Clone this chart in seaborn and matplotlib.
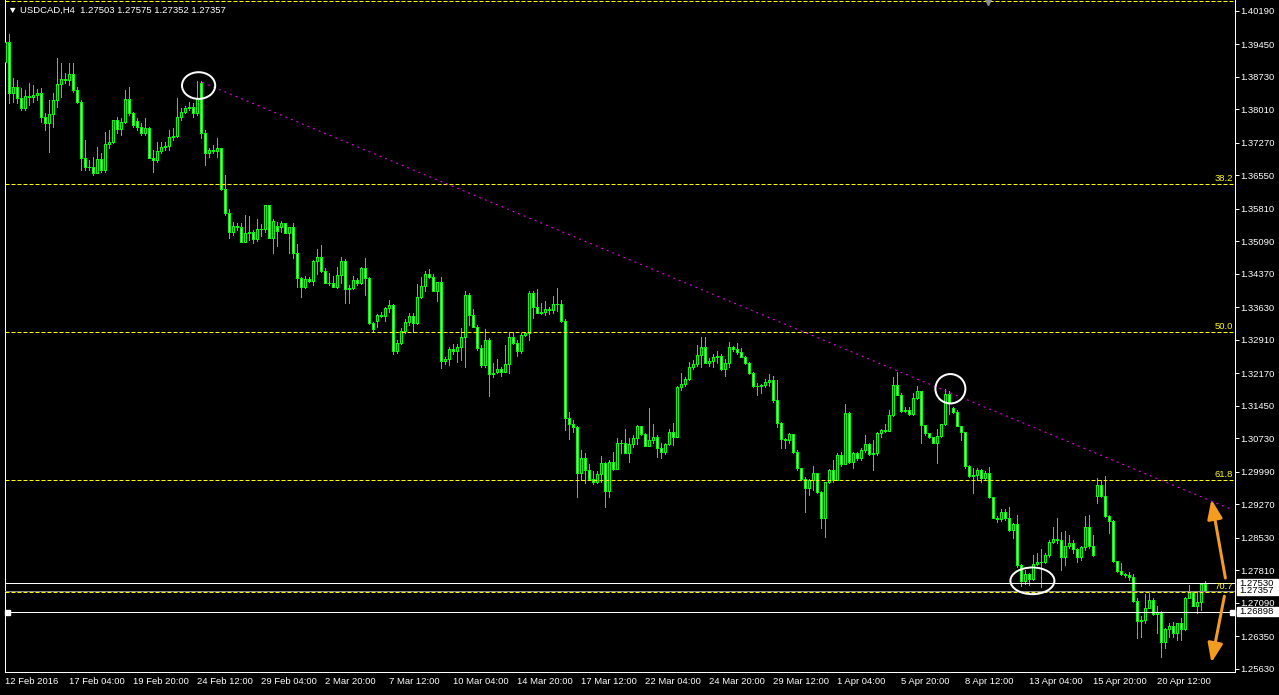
import matplotlib
matplotlib.use("Agg")
import matplotlib.pyplot as plt
import matplotlib.transforms as mtransforms
from matplotlib.patches import Ellipse, Rectangle
import numpy as np
import pandas as pd
import seaborn as sns

# USDCAD H4 bars
opens = [
    1.3907, 1.3951, 1.3838, 1.3850, 1.3826, 1.3804, 1.3831, 1.3829, 1.3833, 1.3837,
    1.3784, 1.3772, 1.3791, 1.3822, 1.3857, 1.3868, 1.3866, 1.3879, 1.3844, 1.3818,
    1.3693, 1.3673, 1.3674, 1.3661, 1.3691, 1.3667, 1.3724, 1.3728, 1.3778, 1.3758,
    1.3774, 1.3824, 1.3794, 1.3776, 1.3763, 1.3748, 1.3759, 1.3694, 1.3689, 1.3710,
    1.3717, 1.3720, 1.3741, 1.3742, 1.3784, 1.3796, 1.3804, 1.3806, 1.3793, 1.3860,
    1.3750, 1.3704, 1.3711, 1.3709, 1.3715, 1.3624, 1.3571, 1.3530, 1.3543, 1.3542,
    1.3508, 1.3527, 1.3530, 1.3514, 1.3536, 1.3537, 1.3590, 1.3517, 1.3543, 1.3542,
    1.3549, 1.3528, 1.3540, 1.3484, 1.3427, 1.3409, 1.3426, 1.3422, 1.3466, 1.3474,
    1.3444, 1.3418, 1.3416, 1.3409, 1.3435, 1.3466, 1.3403, 1.3405, 1.3424, 1.3418,
    1.3450, 1.3427, 1.3328, 1.3334, 1.3346, 1.3344, 1.3361, 1.3368, 1.3267, 1.3284,
    1.3311, 1.3331, 1.3345, 1.3328, 1.3385, 1.3410, 1.3436, 1.3431, 1.3400, 1.3419,
    1.3245, 1.3248, 1.3270, 1.3267, 1.3275, 1.3297, 1.3390, 1.3346, 1.3320, 1.3273,
    1.3236, 1.3292, 1.3215, 1.3221, 1.3226, 1.3221, 1.3237, 1.3297, 1.3285, 1.3267,
    1.3301, 1.3306, 1.3396, 1.3365, 1.3351, 1.3353, 1.3359, 1.3357, 1.3371, 1.3371,
    1.3334, 1.3118, 1.3104, 1.3099, 1.2997, 1.3029, 1.3003, 1.2983, 1.2976, 1.2994,
    1.3018, 1.2957, 1.3022, 1.3005, 1.3062, 1.3064, 1.3041, 1.3060, 1.3073, 1.3101,
    1.3083, 1.3057, 1.3070, 1.3076, 1.3053, 1.3044, 1.3060, 1.3088, 1.3077, 1.3186,
    1.3193, 1.3205, 1.3231, 1.3238, 1.3257, 1.3276, 1.3241, 1.3244, 1.3254, 1.3256,
    1.3226, 1.3239, 1.3275, 1.3270, 1.3265, 1.3253, 1.3241, 1.3218, 1.3188, 1.3189,
    1.3191, 1.3198, 1.3202, 1.3158, 1.3108, 1.3071, 1.3070, 1.3082, 1.3044, 1.3007,
    1.2983, 1.2963, 1.2981, 1.2996, 1.2955, 1.2898, 1.2977, 1.3003, 1.2980, 1.3036,
    1.3017, 1.3130, 1.3022, 1.3041, 1.3029, 1.3047, 1.3060, 1.3038, 1.3040, 1.3086,
    1.3092, 1.3090, 1.3125, 1.3191, 1.3169, 1.3134, 1.3136, 1.3127, 1.3162, 1.3177,
    1.3103, 1.3086, 1.3076, 1.3064, 1.3079, 1.3105, 1.3171, 1.3141, 1.3132, 1.3101,
    1.3088, 1.3011, 1.2989, 1.2992, 1.3003, 1.2985, 1.2996, 1.2943, 1.2898, 1.2895,
    1.2911, 1.2898, 1.2870, 1.2884, 1.2793, 1.2758, 1.2773, 1.2761, 1.2795, 1.2799,
    1.2800, 1.2815, 1.2843, 1.2850, 1.2848, 1.2811, 1.2835, 1.2841, 1.2828, 1.2810,
    1.2832, 1.2876, 1.2835, 1.2946, 1.2970, 1.2946, 1.2901, 1.2891, 1.2802, 1.2780,
    1.2772, 1.2771, 1.2767, 1.2714, 1.2668, 1.2671, 1.2697, 1.2716, 1.2685, 1.2688,
    1.2623, 1.2651, 1.2659, 1.2642, 1.2664, 1.2651, 1.2719, 1.2733, 1.2703, 1.2712,
    1.27503,
]
highs = [
    1.3959, 1.3968, 1.3870, 1.3866, 1.3848, 1.3844, 1.3859, 1.3855, 1.3846, 1.3848,
    1.3793, 1.3822, 1.3837, 1.3914, 1.3904, 1.3881, 1.3904, 1.3904, 1.3851, 1.3822,
    1.3733, 1.3689, 1.3696, 1.3718, 1.3704, 1.3752, 1.3756, 1.3778, 1.3784, 1.3782,
    1.3844, 1.3850, 1.3796, 1.3782, 1.3771, 1.3782, 1.3763, 1.3711, 1.3730, 1.3730,
    1.3730, 1.3756, 1.3759, 1.3826, 1.3804, 1.3809, 1.3818, 1.3815, 1.3863, 1.3863,
    1.3756, 1.3715, 1.3722, 1.3737, 1.3715, 1.3656, 1.3581, 1.3553, 1.3550, 1.3549,
    1.3567, 1.3565, 1.3534, 1.3558, 1.3547, 1.3590, 1.3590, 1.3559, 1.3553, 1.3555,
    1.3550, 1.3540, 1.3549, 1.3503, 1.3431, 1.3432, 1.3430, 1.3468, 1.3492, 1.3501,
    1.3450, 1.3439, 1.3432, 1.3453, 1.3474, 1.3470, 1.3413, 1.3432, 1.3427, 1.3452,
    1.3472, 1.3431, 1.3331, 1.3348, 1.3353, 1.3363, 1.3379, 1.3371, 1.3292, 1.3317,
    1.3337, 1.3350, 1.3350, 1.3415, 1.3431, 1.3444, 1.3447, 1.3437, 1.3420, 1.3431,
    1.3254, 1.3276, 1.3283, 1.3282, 1.3317, 1.3399, 1.3394, 1.3360, 1.3324, 1.3280,
    1.3315, 1.3295, 1.3239, 1.3248, 1.3231, 1.3280, 1.3309, 1.3309, 1.3291, 1.3306,
    1.3309, 1.3400, 1.3400, 1.3403, 1.3373, 1.3378, 1.3365, 1.3388, 1.3407, 1.3379,
    1.3337, 1.3132, 1.3114, 1.3101, 1.3047, 1.3040, 1.3016, 1.3000, 1.3000, 1.3034,
    1.3022, 1.3025, 1.3043, 1.3073, 1.3070, 1.3093, 1.3073, 1.3081, 1.3103, 1.3101,
    1.3086, 1.3140, 1.3106, 1.3081, 1.3064, 1.3062, 1.3095, 1.3108, 1.3188, 1.3217,
    1.3210, 1.3243, 1.3247, 1.3279, 1.3297, 1.3297, 1.3250, 1.3261, 1.3267, 1.3260,
    1.3248, 1.3286, 1.3278, 1.3285, 1.3273, 1.3256, 1.3243, 1.3221, 1.3195, 1.3193,
    1.3204, 1.3216, 1.3211, 1.3202, 1.3110, 1.3073, 1.3084, 1.3083, 1.3047, 1.3008,
    1.2988, 1.2983, 1.3012, 1.2997, 1.2957, 1.2977, 1.3005, 1.3025, 1.3040, 1.3044,
    1.3149, 1.3132, 1.3044, 1.3042, 1.3051, 1.3081, 1.3062, 1.3070, 1.3088, 1.3095,
    1.3106, 1.3137, 1.3210, 1.3221, 1.3173, 1.3143, 1.3143, 1.3173, 1.3189, 1.3179,
    1.3103, 1.3086, 1.3076, 1.3093, 1.3105, 1.3182, 1.3179, 1.3143, 1.3136, 1.3101,
    1.3088, 1.3014, 1.3007, 1.3007, 1.3005, 1.3000, 1.3010, 1.2943, 1.2901, 1.2918,
    1.2918, 1.2922, 1.2887, 1.2904, 1.2795, 1.2782, 1.2775, 1.2815, 1.2819, 1.2828,
    1.2819, 1.2848, 1.2877, 1.2896, 1.2865, 1.2869, 1.2859, 1.2848, 1.2830, 1.2835,
    1.2901, 1.2904, 1.2859, 1.2985, 1.2981, 1.2990, 1.2904, 1.2893, 1.2802, 1.2797,
    1.2776, 1.2778, 1.2773, 1.2719, 1.2680, 1.2729, 1.2730, 1.2719, 1.2702, 1.2692,
    1.2653, 1.2665, 1.2667, 1.2665, 1.2675, 1.2723, 1.2749, 1.2736, 1.2734, 1.2754,
    1.27575,
]
lows = [
    1.3904, 1.3815, 1.3818, 1.3815, 1.3800, 1.3800, 1.3811, 1.3818, 1.3822, 1.3774,
    1.3756, 1.3707, 1.3763, 1.3807, 1.3829, 1.3859, 1.3855, 1.3840, 1.3815, 1.3667,
    1.3668, 1.3667, 1.3656, 1.3660, 1.3663, 1.3663, 1.3715, 1.3726, 1.3748, 1.3745,
    1.3771, 1.3789, 1.3763, 1.3756, 1.3745, 1.3745, 1.3693, 1.3663, 1.3685, 1.3704,
    1.3711, 1.3711, 1.3733, 1.3741, 1.3778, 1.3793, 1.3800, 1.3785, 1.3789, 1.3737,
    1.3678, 1.3696, 1.3704, 1.3696, 1.3623, 1.3567, 1.3517, 1.3523, 1.3534, 1.3508,
    1.3508, 1.3512, 1.3506, 1.3511, 1.3520, 1.3531, 1.3516, 1.3483, 1.3499, 1.3531,
    1.3527, 1.3483, 1.3472, 1.3409, 1.3387, 1.3405, 1.3420, 1.3413, 1.3438, 1.3442,
    1.3416, 1.3413, 1.3409, 1.3405, 1.3416, 1.3372, 1.3372, 1.3403, 1.3413, 1.3415,
    1.3390, 1.3326, 1.3311, 1.3320, 1.3341, 1.3334, 1.3353, 1.3260, 1.3263, 1.3282,
    1.3306, 1.3324, 1.3309, 1.3326, 1.3383, 1.3400, 1.3427, 1.3400, 1.3378, 1.3228,
    1.3238, 1.3236, 1.3261, 1.3243, 1.3247, 1.3232, 1.3324, 1.3319, 1.3269, 1.3232,
    1.3231, 1.3168, 1.3210, 1.3217, 1.3211, 1.3229, 1.3218, 1.3282, 1.3256, 1.3263,
    1.3300, 1.3291, 1.3339, 1.3350, 1.3348, 1.3346, 1.3348, 1.3351, 1.3356, 1.3331,
    1.3092, 1.3071, 1.3088, 1.2944, 1.2981, 1.2975, 1.2981, 1.2972, 1.2974, 1.2977,
    1.2922, 1.2944, 1.3003, 1.3018, 1.3041, 1.3040, 1.3022, 1.3055, 1.3061, 1.3081,
    1.3056, 1.3056, 1.3064, 1.3031, 1.3029, 1.3039, 1.3058, 1.3058, 1.3076, 1.3180,
    1.3189, 1.3202, 1.3226, 1.3233, 1.3231, 1.3239, 1.3233, 1.3231, 1.3239, 1.3224,
    1.3211, 1.3231, 1.3267, 1.3260, 1.3253, 1.3238, 1.3216, 1.3186, 1.3169, 1.3173,
    1.3186, 1.3189, 1.3154, 1.3099, 1.3051, 1.3051, 1.3062, 1.3041, 1.3003, 1.2981,
    1.2911, 1.2948, 1.2959, 1.2953, 1.2874, 1.2856, 1.2974, 1.2977, 1.2980, 1.3012,
    1.3017, 1.3018, 1.3007, 1.3025, 1.3025, 1.3044, 1.3036, 1.3003, 1.3036, 1.3076,
    1.3088, 1.3090, 1.3123, 1.3169, 1.3132, 1.3132, 1.3125, 1.3125, 1.3160, 1.3062,
    1.3081, 1.3073, 1.3062, 1.3018, 1.3076, 1.3103, 1.3127, 1.3130, 1.3101, 1.3070,
    1.3007, 1.2987, 1.2952, 1.2981, 1.2977, 1.2981, 1.2941, 1.2896, 1.2889, 1.2891,
    1.2893, 1.2869, 1.2852, 1.2789, 1.2746, 1.2752, 1.2749, 1.2760, 1.2793, 1.2744,
    1.2797, 1.2811, 1.2842, 1.2841, 1.2782, 1.2793, 1.2830, 1.2819, 1.2800, 1.2804,
    1.2826, 1.2830, 1.2813, 1.2930, 1.2944, 1.2900, 1.2863, 1.2800, 1.2778, 1.2771,
    1.2767, 1.2760, 1.2712, 1.2631, 1.2634, 1.2664, 1.2697, 1.2682, 1.2643, 1.2590,
    1.2609, 1.2634, 1.2633, 1.2627, 1.2627, 1.2649, 1.2719, 1.2702, 1.2687, 1.2693,
    1.27352,
]
closes = [
    1.3951, 1.3838, 1.3850, 1.3826, 1.3804, 1.3831, 1.3829, 1.3833, 1.3837, 1.3784,
    1.3772, 1.3791, 1.3822, 1.3857, 1.3868, 1.3866, 1.3879, 1.3844, 1.3818, 1.3693,
    1.3673, 1.3674, 1.3661, 1.3691, 1.3667, 1.3724, 1.3728, 1.3778, 1.3758, 1.3774,
    1.3824, 1.3794, 1.3766, 1.3763, 1.3748, 1.3759, 1.3694, 1.3689, 1.3710, 1.3717,
    1.3720, 1.3741, 1.3742, 1.3784, 1.3796, 1.3804, 1.3806, 1.3793, 1.3826, 1.3750,
    1.3704, 1.3711, 1.3709, 1.3715, 1.3624, 1.3571, 1.3530, 1.3543, 1.3542, 1.3508,
    1.3527, 1.3530, 1.3514, 1.3536, 1.3537, 1.3590, 1.3517, 1.3554, 1.3533, 1.3549,
    1.3528, 1.3540, 1.3484, 1.3427, 1.3409, 1.3426, 1.3422, 1.3466, 1.3474, 1.3444,
    1.3418, 1.3416, 1.3409, 1.3435, 1.3466, 1.3403, 1.3405, 1.3424, 1.3418, 1.3450,
    1.3427, 1.3328, 1.3315, 1.3346, 1.3344, 1.3361, 1.3368, 1.3267, 1.3284, 1.3311,
    1.3331, 1.3345, 1.3328, 1.3385, 1.3410, 1.3436, 1.3431, 1.3400, 1.3419, 1.3245,
    1.3248, 1.3270, 1.3267, 1.3275, 1.3297, 1.3390, 1.3346, 1.3320, 1.3273, 1.3236,
    1.3292, 1.3215, 1.3217, 1.3226, 1.3221, 1.3237, 1.3297, 1.3285, 1.3267, 1.3301,
    1.3306, 1.3396, 1.3365, 1.3351, 1.3353, 1.3359, 1.3357, 1.3371, 1.3371, 1.3334,
    1.3118, 1.3104, 1.3099, 1.2997, 1.3029, 1.3003, 1.2983, 1.2976, 1.2994, 1.3018,
    1.2957, 1.3022, 1.3005, 1.3062, 1.3064, 1.3041, 1.3060, 1.3073, 1.3101, 1.3083,
    1.3057, 1.3070, 1.3076, 1.3053, 1.3044, 1.3060, 1.3088, 1.3077, 1.3186, 1.3193,
    1.3205, 1.3231, 1.3238, 1.3257, 1.3276, 1.3241, 1.3244, 1.3254, 1.3256, 1.3226,
    1.3239, 1.3275, 1.3270, 1.3265, 1.3253, 1.3241, 1.3218, 1.3188, 1.3189, 1.3191,
    1.3198, 1.3202, 1.3158, 1.3108, 1.3071, 1.3070, 1.3082, 1.3044, 1.3007, 1.2983,
    1.2963, 1.2981, 1.2996, 1.2955, 1.2898, 1.2977, 1.3003, 1.2980, 1.3036, 1.3017,
    1.3130, 1.3022, 1.3041, 1.3029, 1.3047, 1.3060, 1.3038, 1.3040, 1.3086, 1.3092,
    1.3090, 1.3125, 1.3191, 1.3169, 1.3134, 1.3136, 1.3127, 1.3162, 1.3177, 1.3103,
    1.3086, 1.3076, 1.3064, 1.3079, 1.3105, 1.3171, 1.3152, 1.3132, 1.3101, 1.3088,
    1.3011, 1.2989, 1.2992, 1.3003, 1.2985, 1.2996, 1.2943, 1.2898, 1.2895, 1.2911,
    1.2898, 1.2870, 1.2884, 1.2793, 1.2758, 1.2773, 1.2761, 1.2795, 1.2799, 1.2800,
    1.2815, 1.2843, 1.2850, 1.2848, 1.2811, 1.2835, 1.2841, 1.2828, 1.2810, 1.2832,
    1.2876, 1.2835, 1.2815, 1.2970, 1.2946, 1.2901, 1.2891, 1.2802, 1.2780, 1.2772,
    1.2771, 1.2767, 1.2714, 1.2668, 1.2671, 1.2697, 1.2716, 1.2685, 1.2688, 1.2623,
    1.2651, 1.2659, 1.2642, 1.2664, 1.2651, 1.2719, 1.2733, 1.2703, 1.2712, 1.2751,
    1.27357,
]

date_labels = [
    "12 Feb 2016", "17 Feb 04:00", "19 Feb 20:00", "24 Feb 12:00", "29 Feb 04:00",
    "2 Mar 20:00", "7 Mar 12:00", "10 Mar 04:00", "14 Mar 20:00", "17 Mar 12:00",
    "22 Mar 04:00", "24 Mar 20:00", "29 Mar 12:00", "1 Apr 04:00", "5 Apr 20:00",
    "8 Apr 12:00", "13 Apr 04:00", "15 Apr 20:00", "20 Apr 12:00",
]
bars_per_label = 16

price_ticks = [
    1.40190, 1.39450, 1.38730, 1.38010, 1.37270, 1.36550, 1.35810, 1.35090,
    1.34370, 1.33630, 1.32910, 1.32170, 1.31450, 1.30730, 1.29990, 1.29270,
    1.28530, 1.27810, 1.27090, 1.26350, 1.25630,
]

# fibonacci drawn from the january high to the 2015 low
fib_high, fib_low = 1.4696, 1.1920
fib_ratios = [23.6, 38.2, 50.0, 61.8, 70.7]

trend_anchors = [(49.2, 1.3861), (236.0, 1.3175)]
trend_end = 306.75

white_levels = [1.27530, 1.26898]
bid_price = 1.27357
price_boxes = [1.27530, 1.27357, 1.26898]

# (bar, price, width in bars, height in price)
circles = [(48.3, 1.3854, 8.3, 0.0059), (236.25, 1.3183, 7.5, 0.0065), (256.75, 1.2758, 11.0, 0.0059)]
# (tail, head) in (bar, price)
arrows = [((305.0, 1.2764), (301.5, 1.2938)), ((304.75, 1.2724), (301.5, 1.2577))]

header = "▼ USDCAD,H4  1.27503 1.27575 1.27352 1.27357"

sns.set_theme(style="dark", rc={
    "figure.facecolor": "black",
    "axes.facecolor": "black",
    "axes.edgecolor": "white",
    "xtick.color": "white",
    "ytick.color": "white",
    "lines.scale_dashes": False,
})
plt.rcParams["font.family"] = ["Liberation Sans", "DejaVu Sans"]

PX = 72 / 100  # one pixel in points
GREEN = "#00ff00"
FS = 6.8
Y_TOP, Y_BOTTOM = 1.40433, 1.25562

df = pd.DataFrame({"open": opens, "high": highs, "low": lows, "close": closes})
df["bar"] = np.arange(len(df))
df["high"] = df[["open", "high", "close"]].max(axis=1)
df["low"] = df[["open", "low", "close"]].min(axis=1)
df["body_lo"] = df[["open", "close"]].min(axis=1)
df["body_h"] = (df["close"] - df["open"]).abs()
df["fill"] = np.where(df["close"] >= df["open"], "black", "white")

fig = plt.figure(figsize=(12.79, 6.95), dpi=100)
ax = fig.add_axes([5 / 1279, 23 / 695, 1230 / 1279, 672 / 695])
ax.set_xlim(-0.1, 307.4)
ax.set_ylim(Y_BOTTOM, Y_TOP)
ax.grid(False)

# candles
ax.vlines(df["bar"], df["low"], df["high"], color=GREEN, lw=PX, antialiased=False, zorder=2)
ax.bar(df["bar"], df["body_h"], bottom=df["body_lo"], width=0.5, color=df["fill"].tolist(),
       edgecolor=GREEN, linewidth=PX, antialiased=False, zorder=3)

# fibo levels
for r in fib_ratios:
    lvl = fib_high - r / 100 * (fib_high - fib_low)
    ax.axhline(lvl, color="#ffff00", lw=PX, ls=(0, (4 * PX, 2 * PX)), zorder=4)
    if lvl < Y_TOP - 0.002:  # the 23.6 label sits off the top of the window
        ax.annotate(f"{r:.1f}", xy=(1, lvl), xycoords=("axes fraction", "data"),
                    xytext=(-2 * PX, 1 * PX), textcoords="offset points",
                    ha="right", va="bottom", color="#ffff00", fontsize=FS, zorder=9)

# trend line (ray to the right edge)
(x0, y0), (x1, y1) = trend_anchors
slope = (y1 - y0) / (x1 - x0)
ax.plot([x0, trend_end], [y0, y0 + slope * (trend_end - x0)], color="#ff00ff",
        lw=PX, ls=(0, (2 * PX, 4 * PX)), zorder=4)

# horizontal lines
for lvl in white_levels:
    ax.axhline(lvl, color="white", lw=PX, antialiased=False, zorder=5)
ax.axhline(bid_price, color="#8c8c8c", lw=PX, antialiased=False, zorder=5)
ax.plot([0.4, 306.75], [white_levels[1]] * 2, ls="none", marker="s", ms=3.6,
        color="white", clip_on=False, zorder=6)

# circles
for bx, py, w, h in circles:
    ax.add_patch(Ellipse((bx, py), w, h, fill=False, edgecolor="white", lw=2 * PX, zorder=6))

# orange arrows
for tail, head in arrows:
    ax.annotate("", xy=head, xytext=tail,
                arrowprops=dict(arrowstyle="-|>,head_length=1.15,head_width=0.45",
                                color="#f39c1f", lw=3 * PX, mutation_scale=10,
                                shrinkA=0, shrinkB=0),
                annotation_clip=False, zorder=7)

# chart shift marker
ax.plot([245.75], [1.40378], marker="v", ms=4, color="#8c8c8c", clip_on=False, zorder=6)

# axes styling
for side in ["left", "bottom", "right"]:
    ax.spines[side].set_color("white")
    ax.spines[side].set_linewidth(PX)
ax.spines["top"].set_visible(False)

ax.yaxis.tick_right()
ax.set_yticks(price_ticks)
ax.set_yticklabels([f"{t:.5f}" for t in price_ticks])
ax.tick_params(axis="y", length=4 * PX, width=PX, pad=1 * PX, labelsize=FS,
               colors="white", left=False, right=True)
ax.set_xticks(np.arange(len(date_labels)) * bars_per_label)
ax.set_xticklabels(date_labels, ha="left")
ax.tick_params(axis="x", length=4 * PX, width=PX, pad=1 * PX, labelsize=FS, colors="white")

# price tags on the scale
tr = mtransforms.blended_transform_factory(ax.transAxes, ax.transData)
for val in price_boxes:
    ax.add_patch(Rectangle((1.0016, val - 0.00094), 0.0333, 0.00188, transform=tr,
                           facecolor="white", edgecolor="white", clip_on=False, zorder=8))
    ax.text(1.0035, val, f"{val:.5f}", transform=tr, color="black", fontsize=FS,
            va="center", ha="left", clip_on=False, zorder=9)

fig.text(8 / 1279, 1 - 10 / 695, header, color="white", fontsize=FS, va="center", ha="left")

fig.savefig("out.png", dpi=100, facecolor="black")
